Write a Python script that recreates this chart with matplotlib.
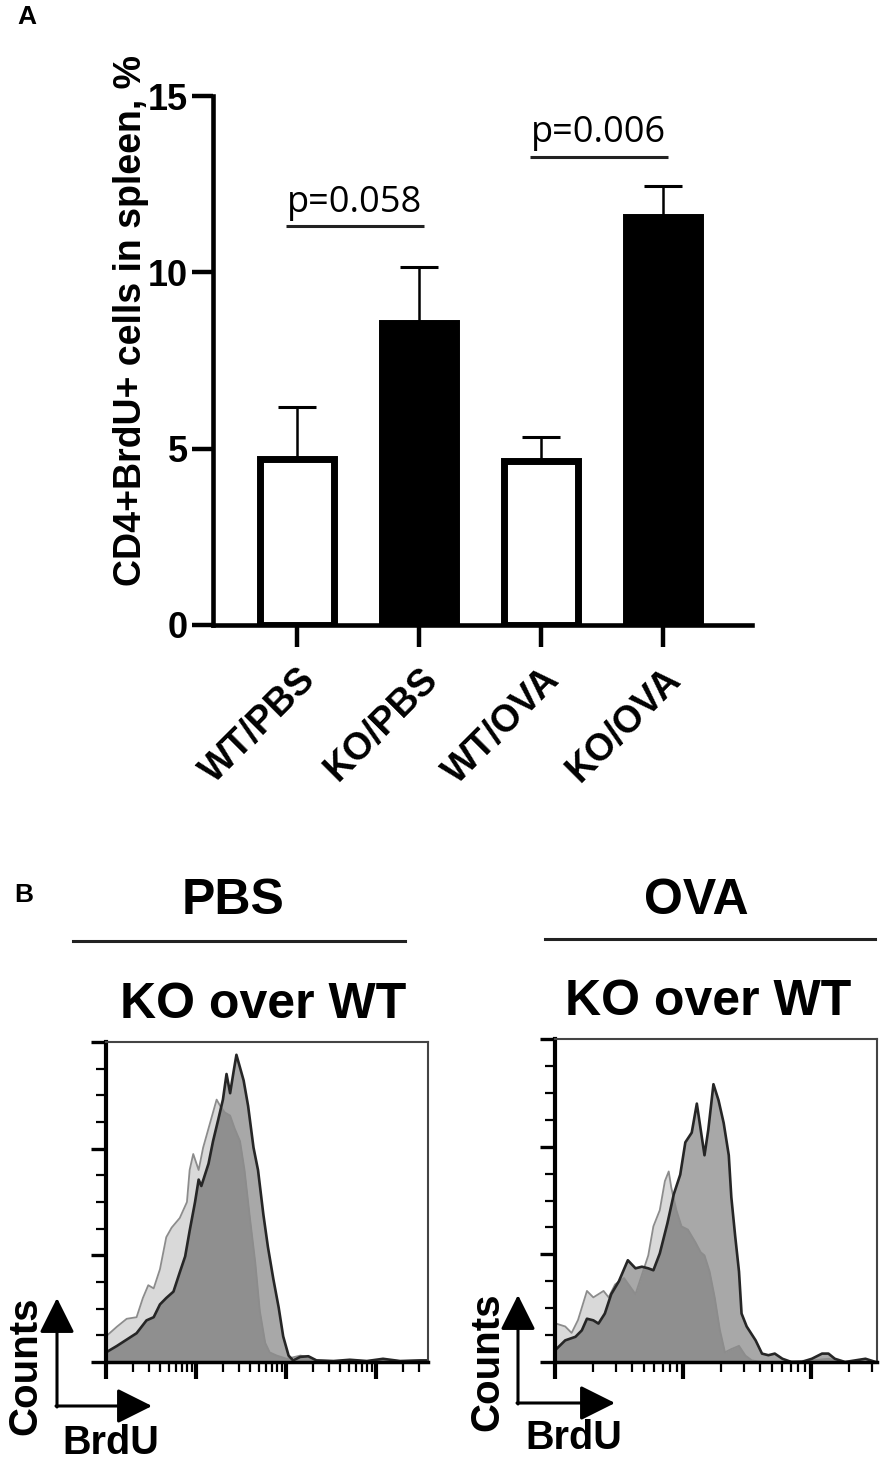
import numpy as np
import matplotlib.pyplot as plt
from matplotlib import font_manager as fm
from matplotlib.transforms import ScaledTranslation
from matplotlib.ticker import MultipleLocator, LogLocator, NullFormatter

plt.rcParams["font.family"] = ["Liberation Sans", "DejaVu Sans"]


def has_font(name):
    try:
        fm.findfont(fm.FontProperties(family=name), fallback_to_default=False)
        return True
    except ValueError:
        return False


P_FONT = "Open Sans" if has_font("Open Sans") else "Liberation Sans"

# ── panel A data ────────────────────────────────────────────────────────────
GROUPS = ["WT/PBS", "KO/PBS", "WT/OVA", "KO/OVA"]
MEANS = [4.72, 8.57, 4.65, 11.58]
SEM = [1.47, 1.57, 0.68, 0.88]
FILLS = ["white", "black", "white", "black"]
P_PAIRS = [(0, 1), (2, 3)]
P_LABELS = ["p=0.058", "p=0.006"]
P_HEIGHTS = [11.3, 13.27]

# ── panel B data: BrdU (decades) vs counts (% of axis max) ──────────────────
PBS_KO_DEC = [0.00, 0.12, 0.23, 0.34, 0.45, 0.53, 0.60, 0.67, 0.75, 0.82,
              0.88, 0.93, 0.99, 1.03, 1.06, 1.14, 1.19, 1.25, 1.30, 1.34,
              1.38, 1.42, 1.45, 1.49, 1.53, 1.58, 1.64, 1.69, 1.75, 1.80,
              1.86, 1.92, 1.97, 2.03, 2.08, 2.16, 2.25, 2.34, 2.53, 2.71,
              2.90, 3.08, 3.27, 3.49, 3.58]
PBS_KO_PCT = [3, 5, 7, 9, 13, 14, 18, 20, 22, 28,
              33, 41, 50, 57, 55, 62, 69, 76, 82, 90,
              84, 91, 96, 92, 88, 80, 67, 60, 46, 36,
              26, 17, 8, 2, 0.5, 1.6, 1.8, 0.5, 0.3, 0.7,
              0.3, 1.0, 0.3, 0.5, 0.5]
PBS_WT_DEC = [0.00, 0.12, 0.23, 0.34, 0.41, 0.47, 0.53, 0.60, 0.67, 0.73,
              0.82, 0.90, 0.93, 0.97, 1.03, 1.08, 1.16, 1.23, 1.27, 1.32,
              1.38, 1.43, 1.49, 1.54, 1.60, 1.66, 1.71, 1.77, 1.82, 1.90,
              2.01, 2.16, 2.25, 2.34, 2.53, 2.71, 2.90, 3.08, 3.27, 3.58]
PBS_WT_PCT = [8, 11, 13.5, 14, 20, 24, 23, 29, 39, 42,
              45, 50, 60, 65, 60, 67, 75, 82, 80, 78,
              77, 73, 69, 60, 45, 31, 16, 6, 3, 2,
              1, 2, 1.6, 0.5, 0.3, 0.5, 0.3, 0.7, 0.3, 0.5]

OVA_KO_DEC = [0.00, 0.08, 0.16, 0.21, 0.25, 0.30, 0.34, 0.39, 0.44, 0.50,
              0.57, 0.63, 0.68, 0.73, 0.77, 0.82, 0.88, 0.93, 0.98, 1.02,
              1.07, 1.11, 1.14, 1.17, 1.20, 1.24, 1.28, 1.32, 1.36, 1.38,
              1.41, 1.44, 1.46, 1.50, 1.57, 1.62, 1.67, 1.72, 1.78, 1.85,
              1.93, 2.01, 2.09, 2.14, 2.19, 2.27, 2.35, 2.43, 2.51]
OVA_KO_PCT = [3.6, 6.7, 7.8, 9.8, 13.4, 12.9, 11.9, 15, 21, 25,
              31.5, 29, 29.5, 29, 28.4, 33.6, 43, 52, 58, 68,
              71, 80, 72, 64, 72, 86, 81, 74, 64, 51,
              39, 28, 15, 11, 6.7, 2.6, 2.1, 2.6, 1, 0,
              0, 1, 2.6, 2.6, 1, 0, 0.5, 1, 0]
OVA_WT_DEC = [0.00, 0.08, 0.13, 0.18, 0.25, 0.30, 0.34, 0.38, 0.42, 0.47,
              0.54, 0.63, 0.68, 0.73, 0.77, 0.82, 0.86, 0.89, 0.91, 0.95,
              0.99, 1.04, 1.10, 1.14, 1.17, 1.21, 1.25, 1.29, 1.33, 1.38,
              1.44, 1.49, 1.54, 1.62, 1.75, 2.01, 2.14, 2.27, 2.51]
OVA_WT_PCT = [12, 11, 9, 13, 22, 20, 21, 22, 20, 24,
              26, 21, 27, 33, 42, 47, 56, 59, 54, 47,
              42, 41, 37, 34, 33, 28, 20, 10, 3, 4,
              5, 2, 0.5, 0, 0, 0.5, 1, 0, 0]

W, H = 886, 1469
fig = plt.figure(figsize=(W / 100, H / 100), dpi=100)


def fx(px):
    return px / W


def fy(py):
    return 1 - py / H


# ═══ Panel A — bar chart ═══════════════════════════════════════════════════
ax = fig.add_axes([fx(213), fy(625), 539 / W, 529 / H])
xpos = np.arange(len(GROUPS))
ax.errorbar(xpos, MEANS, yerr=[np.zeros(len(SEM)), SEM], fmt="none",
            ecolor="black", elinewidth=1.8, capsize=14, capthick=2.2, zorder=1)
ax.bar(xpos, MEANS, width=0.61, color=FILLS, edgecolor="black",
       linewidth=5, zorder=2)

for (a, b), lab, h in zip(P_PAIRS, P_LABELS, P_HEIGHTS):
    ax.plot([a - 0.09, b + 0.04], [h, h], color="#222222", lw=2.2,
            solid_capstyle="butt")
    ax.text((a + b) / 2 - 0.03, h + 0.42, lab, ha="center", va="baseline",
            fontsize=26, family=P_FONT)

ax.set_xlim(-0.69, 3.73)
ax.set_ylim(0, 15)
ax.set_yticks([0, 5, 10, 15])
ax.set_xticks(xpos)
ax.set_xticklabels(GROUPS, rotation=45, ha="right", rotation_mode="anchor",
                   fontsize=27, fontweight="bold")
shift = ScaledTranslation(-6 / 100, -4 / 100, fig.dpi_scale_trans)
for lbl in ax.get_xticklabels():
    lbl.set_transform(lbl.get_transform() + shift)
ax.tick_params(axis="y", length=15, width=3.2, pad=3, labelsize=26)
ax.tick_params(axis="x", length=16, width=3.2, pad=10)
for lbl in ax.get_yticklabels():
    lbl.set_fontweight("bold")
for s in ["top", "right"]:
    ax.spines[s].set_visible(False)
for s in ["left", "bottom"]:
    ax.spines[s].set_linewidth(3.3)

fig.text(fx(131), fy(321), "CD4+BrdU+ cells in spleen, %", rotation=90,
         ha="center", va="center", fontsize=27, fontweight="bold")
fig.text(fx(27), fy(17), "A", ha="center", va="center", fontsize=19,
         fontweight="bold")


# ═══ Panel B — BrdU histograms ═════════════════════════════════════════════
def flow_panel(rect, xmax_dec, wt_dec, wt_pct, ko_dec, ko_pct):
    h = fig.add_axes(rect)
    wx = 10.0 ** np.array(wt_dec)
    kx = 10.0 ** np.array(ko_dec)
    h.fill_between(wx, wt_pct, color="black", alpha=0.15, lw=0)
    h.fill_between(kx, ko_pct, color="black", alpha=0.34, lw=0)
    h.plot(wx, wt_pct, color="#8c8c8c", lw=1.3)
    h.plot(kx, ko_pct, color="#262626", lw=1.9)
    h.set_xscale("log")
    h.set_xlim(1, 10 ** xmax_dec)
    h.set_ylim(0, 100)
    h.xaxis.set_major_locator(LogLocator(base=10, numticks=20))
    h.xaxis.set_minor_locator(LogLocator(base=10, subs=np.arange(2, 10),
                                         numticks=50))
    h.xaxis.set_major_formatter(NullFormatter())
    h.xaxis.set_minor_formatter(NullFormatter())
    h.yaxis.set_major_locator(MultipleLocator(100 / 3))
    h.yaxis.set_minor_locator(MultipleLocator(100 / 12))
    h.yaxis.set_major_formatter(NullFormatter())
    h.tick_params(axis="x", which="major", length=12, width=3)
    h.tick_params(axis="x", which="minor", length=7, width=1.6)
    h.tick_params(axis="y", which="major", length=11, width=2.4)
    h.tick_params(axis="y", which="minor", length=7, width=1.6)
    h.spines["left"].set_linewidth(3)
    h.spines["bottom"].set_linewidth(2.5)
    for s in ["top", "right"]:
        h.spines[s].set_linewidth(1.5)
        h.spines[s].set_color("#444444")
    return h


flow_panel([fx(106), fy(1362), 322 / W, 320 / H], 3.58,
           PBS_WT_DEC, PBS_WT_PCT, PBS_KO_DEC, PBS_KO_PCT)
flow_panel([fx(555), fy(1362), 322 / W, 323 / H], 2.52,
           OVA_WT_DEC, OVA_WT_PCT, OVA_KO_DEC, OVA_KO_PCT)

# overlay for headers, arrows and labels (pixel coordinates)
ov = fig.add_axes([0, 0, 1, 1], zorder=5)
ov.set_xlim(0, W)
ov.set_ylim(H, 0)
ov.axis("off")

ov.plot([73, 405], [941, 941], color="#222222", lw=2.2)
ov.plot([545, 875], [939, 939], color="#222222", lw=2.2)

arrow = dict(arrowstyle="-|>,head_length=0.6,head_width=0.3", lw=2.2,
             color="black", shrinkA=0, shrinkB=0, mutation_scale=36)
for x0, y0, ytip, xtip in [(57, 1406, 1298, 152), (518, 1403, 1295, 615)]:
    ov.annotate("", xy=(x0, ytip), xytext=(x0, y0 + 1), arrowprops=arrow)
    ov.annotate("", xy=(xtip, y0), xytext=(x0 - 1, y0), arrowprops=arrow)

fig.text(fx(24), fy(895), "B", ha="center", va="center", fontsize=19,
         fontweight="bold")
fig.text(fx(233), fy(901), "PBS", ha="center", va="center", fontsize=36,
         fontweight="bold")
fig.text(fx(696), fy(901), "OVA", ha="center", va="center", fontsize=36,
         fontweight="bold")
fig.text(fx(263), fy(1005), "KO over WT", ha="center", va="center",
         fontsize=36, fontweight="bold")
fig.text(fx(708), fy(1002), "KO over WT", ha="center", va="center",
         fontsize=36, fontweight="bold")

for cx, cy, bx, by in [(25, 1366, 111, 1443), (487, 1362, 574, 1438)]:
    fig.text(fx(cx), fy(cy), "Counts", rotation=90, ha="center", va="center",
             fontsize=29, fontweight="bold")
    fig.text(fx(bx), fy(by), "BrdU", ha="center", va="center", fontsize=28.5,
             fontweight="bold")

fig.savefig("out.png", dpi=100)
